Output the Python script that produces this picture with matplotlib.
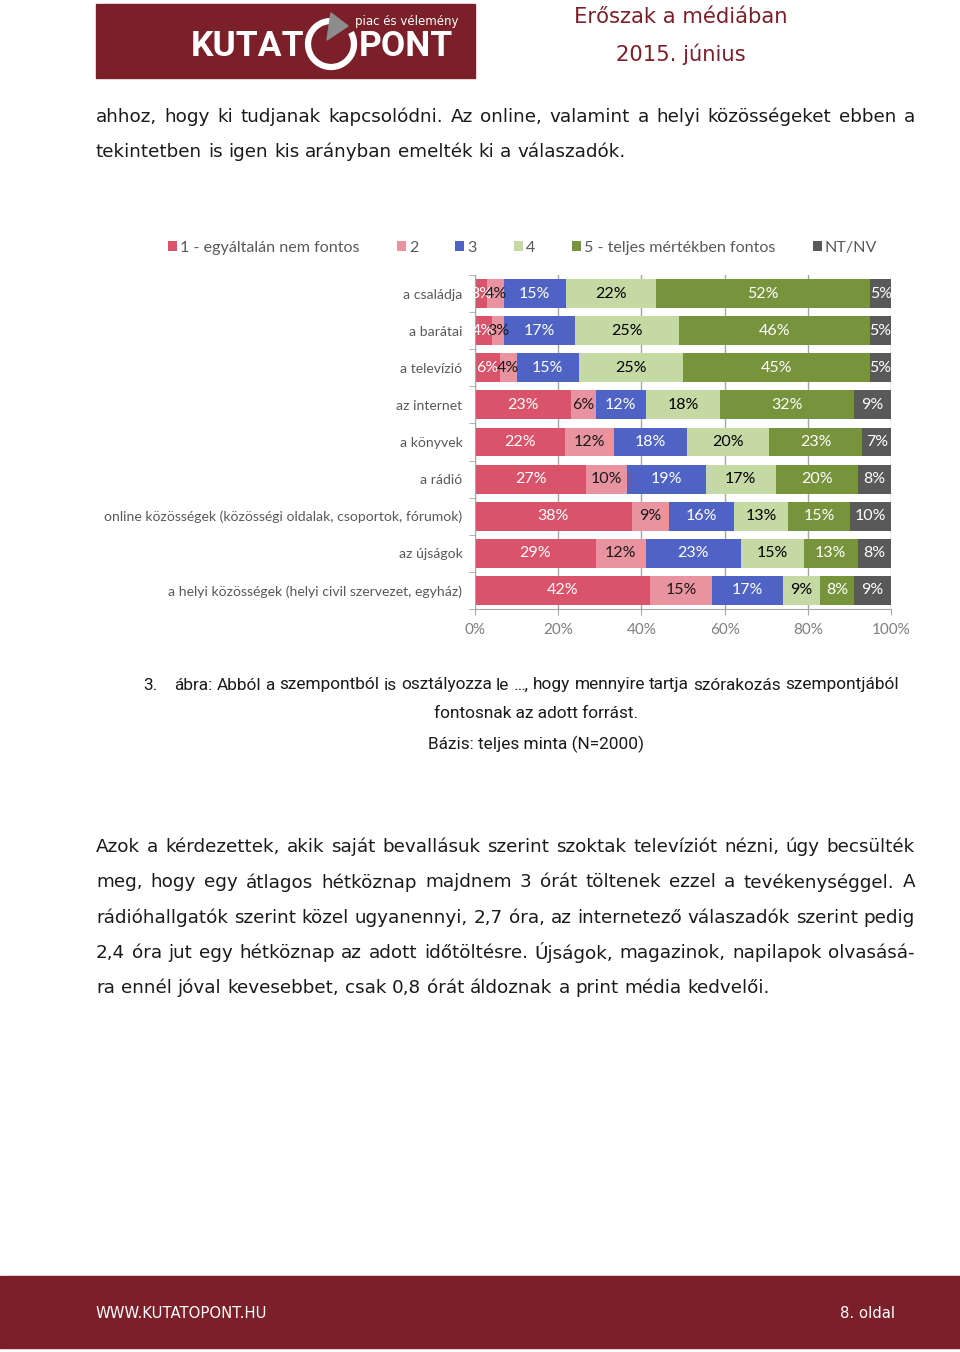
import numpy as np
import matplotlib.pyplot as plt
from matplotlib.patches import Rectangle, Arc, Polygon

# chart data (percent of respondents per answer, top row first)
CATEGORIES = ["a családja", "a barátai", "a televízió", "az internet", "a könyvek",
              "a rádió", "online közösségek (közösségi oldalak, csoportok, fórumok)",
              "az újságok", "a helyi közösségek (helyi civil szervezet, egyház)"]
SERIES = ["1 - egyáltalán nem fontos", "2", "3", "4", "5 - teljes mértékben fontos", "NT/NV"]
S1 = [3, 4, 6, 23, 22, 27, 38, 29, 42]
S2 = [4, 3, 4, 6, 12, 10, 9, 12, 15]
S3 = [15, 17, 15, 12, 18, 19, 16, 23, 17]
S4 = [22, 25, 25, 18, 20, 17, 13, 15, 9]
S5 = [52, 46, 45, 32, 23, 20, 15, 13, 8]
S6 = [5, 5, 5, 9, 7, 8, 10, 8, 9]
XTICKS = [0, 20, 40, 60, 80, 100]

COLORS = ["#D9546A", "#E8939F", "#4F63C4", "#C5D9A4", "#77933C", "#595959"]
LABEL_COLORS = ["white", "#1a1a1a", "white", "black", "white", "white"]
MAROON = "#7B2029"

W, H = 960, 1352
fig = plt.figure(figsize=(W / 100, H / 100), dpi=100)
bg = fig.add_axes([0, 0, 1, 1])
bg.set_xlim(0, W)
bg.set_ylim(H, 0)
bg.axis("off")
renderer = fig.canvas.get_renderer()

# ---- header ----
bg.add_patch(Rectangle((96, 4), 379, 74, color=MAROON))
bg.text(191, 47, "KUTAT", color="white", fontsize=25.5, fontweight="bold",
        family="Roboto", va="center", ha="left")
bg.text(359, 47, "PONT", color="white", fontsize=25.5, fontweight="bold",
        family="Roboto", va="center", ha="left")
bg.add_patch(Arc((331, 44), 46, 46, theta1=-30, theta2=285, color="white", lw=4.5))
bg.add_patch(Polygon([(331, 13), (348, 26), (327, 40)], closed=True, color="#8C8C8C"))
bg.text(355, 22, "piac és vélemény", color="white", fontsize=8.5,
        family="DejaVu Sans", va="center", ha="left")
bg.text(681, 17, "Erőszak a médiában", color=MAROON, fontsize=15.2,
        family="DejaVu Sans", va="center", ha="center")
bg.text(681, 54, "2015. június", color=MAROON, fontsize=15.2,
        family="DejaVu Sans", va="center", ha="center")

# ---- body text helpers ----
BODY = dict(family="DejaVu Sans", fontsize=13.25, color="#1a1a1a")


def text_width(s, **kw):
    t = bg.text(0, 0, s, **kw)
    w = t.get_window_extent(renderer).width
    t.remove()
    return w


def put_line(s, x0, x1, y, justify=True, **kw):
    words = s.split(" ")
    ts = [bg.text(0, y, w, va="center", ha="left", **kw) for w in words]
    ws = [t.get_window_extent(renderer).width for t in ts]
    space = text_width("x x", **kw) - text_width("xx", **kw)
    gap = space
    if justify and len(words) > 1:
        gap = max((x1 - x0 - sum(ws)) / (len(words) - 1), space * 0.6)
    x = x0
    for t, w in zip(ts, ws):
        t.set_x(x)
        x += w + gap


put_line("ahhoz, hogy ki tudjanak kapcsolódni. Az online, valamint a helyi közösségeket ebben a",
         96, 915, 117, **BODY)
put_line("tekintetben is igen kis arányban emelték ki a válaszadók.", 96, 915, 152, False, **BODY)

para2 = ["Azok a kérdezettek, akik saját bevallásuk szerint szoktak televíziót nézni, úgy becsülték",
         "meg, hogy egy átlagos hétköznap majdnem 3 órát töltenek ezzel a tevékenységgel. A",
         "rádióhallgatók szerint közel ugyanennyi, 2,7 óra, az internetező válaszadók szerint pedig",
         "2,4 óra jut egy hétköznap az adott időtöltésre. Újságok, magazinok, napilapok olvasásá-",
         "ra ennél jóval kevesebbet, csak 0,8 órát áldoznak a print média kedvelői."]
for i, line in enumerate(para2):
    put_line(line, 96, 915, 847 + i * 35.3, i < len(para2) - 1, **BODY)

# ---- caption ----
CAP = dict(family="Roboto", fontsize=12.4, color="#1a1a1a")
bg.text(143, 685, "3.", va="center", ha="left", **CAP)
put_line("ábra: Abból a szempontból is osztályozza le …, hogy mennyire tartja szórakozás szempontjából",
         174, 899, 685, **CAP)
bg.text(536, 714, "fontosnak az adott forrást.", va="center", ha="center", **CAP)
bg.text(536, 744, "Bázis: teljes minta (N=2000)", va="center", ha="center", **CAP)

# ---- footer ----
bg.add_patch(Rectangle((0, 1276), W, 72, color=MAROON))
bg.text(96, 1314, "WWW.KUTATOPONT.HU", color="white", fontsize=10.7,
        family="DejaVu Sans", va="center", ha="left")
bg.text(895, 1314, "8. oldal", color="white", fontsize=10.7,
        family="DejaVu Sans", va="center", ha="right")

# ---- chart ----
ax = fig.add_axes([475 / W, 1 - 609 / H, (891 - 475) / W, (609 - 275) / H])
vals = np.array([S1, S2, S3, S4, S5, S6], dtype=float)
shares = vals / vals.sum(axis=0) * 100
y = np.arange(len(CATEGORIES))
left = np.zeros(len(CATEGORIES))
for k in range(len(SERIES)):
    cont = ax.barh(y, shares[k], left=left, height=0.78, color=COLORS[k],
                   label=SERIES[k], zorder=2)
    ax.bar_label(cont, labels=[f"{int(v)}%" for v in vals[k]], label_type="center",
                 color=LABEL_COLORS[k], fontsize=11.5, family="Lato")
    left += shares[k]

ax.set_xlim(0, 100)
ax.set_ylim(len(CATEGORIES) - 0.5, -0.5)
ax.set_xticks(XTICKS)
ax.set_xticklabels([f"{t}%" for t in XTICKS], color="#7F7F7F", fontsize=11, family="Lato")
ax.set_yticks(y)
ax.set_yticklabels(CATEGORIES, color="#595959", fontsize=10.1, family="Lato")
ax.set_yticks(np.arange(-0.5, len(CATEGORIES), 1), minor=True)
ax.tick_params(axis="y", which="major", length=0, pad=9)
ax.tick_params(axis="y", which="minor", length=4, color="#A6A6A6")
ax.tick_params(axis="x", length=4, color="#A6A6A6", pad=6)
ax.xaxis.grid(True, color="#A6A6A6", lw=1, zorder=0)
ax.set_axisbelow(True)
for s in ["top", "right"]:
    ax.spines[s].set_visible(False)
for s in ["left", "bottom"]:
    ax.spines[s].set_color("#A6A6A6")

fig.legend(loc="center left", bbox_to_anchor=(160 / W, 1 - 248 / H), ncol=6,
           frameon=False, borderpad=0, handlelength=0.55, handleheight=0.55,
           handletextpad=0.2, columnspacing=2.3,
           prop={"family": "Lato", "size": 11.6}, labelcolor="#595959")

fig.savefig("out.png", dpi=100)
